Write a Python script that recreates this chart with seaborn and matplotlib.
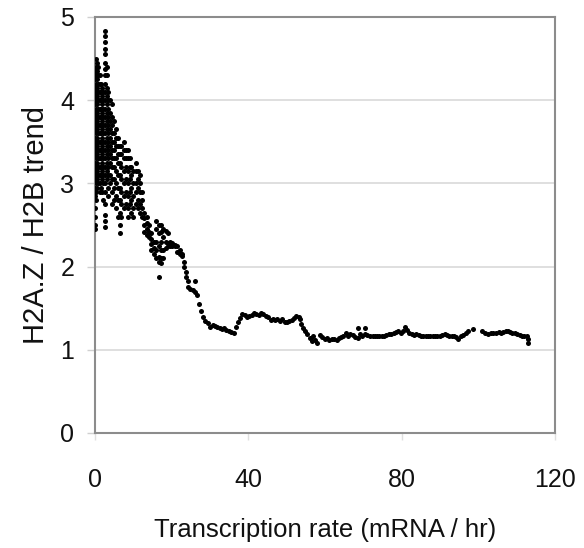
import pandas as pd
import seaborn as sns
import matplotlib.pyplot as plt

# Dense part of the trend (x < 23), read as vertical stacks of points
cluster_cols = [
    (0.0, [4.35, 4.25, 4.15, 4.05, 3.95, 3.85, 3.75, 3.65, 3.55, 3.45, 3.35, 3.25, 3.15, 3.05, 2.95, 2.85, 2.7, 2.6, 2.5, 2.45]),
    (0.3, [4.5, 4.4, 4.3, 4.2, 4.1, 4.0, 3.9, 3.8, 3.7, 3.6, 3.5, 3.4, 3.3, 3.2, 3.1, 3.0, 2.9, 2.8]),
    (0.6, [4.45, 4.35, 4.25, 4.15, 4.05, 3.95, 3.85, 3.75, 3.65, 3.55, 3.45, 3.35, 3.25, 3.15, 3.05, 2.95]),
    (0.9, [4.4, 4.3, 4.2, 4.1, 4.0, 3.9, 3.8, 3.7, 3.6, 3.5, 3.4, 3.3, 3.2, 3.1, 3.0]),
    (1.2, [4.3, 4.2, 4.1, 4.0, 3.9, 3.8, 3.7, 3.6, 3.5, 3.4, 3.3, 3.2, 3.1, 3.0, 2.9]),
    (1.5, [4.2, 4.1, 4.0, 3.9, 3.8, 3.7, 3.6, 3.5, 3.4, 3.3, 3.2, 3.1, 2.95]),
    (1.8, [4.15, 4.05, 3.95, 3.85, 3.75, 3.65, 3.55, 3.45, 3.35, 3.25, 3.15, 3.05, 2.9]),
    (2.1, [4.1, 4.0, 3.9, 3.8, 3.7, 3.6, 3.5, 3.4, 3.3, 3.2, 3.1, 3.0, 2.8]),
    (2.6, [4.83, 4.77, 4.7, 4.62, 4.55, 4.45, 4.38, 4.3, 4.2, 4.1, 4.0, 3.9, 3.8, 3.7, 3.6, 3.5,
           3.4, 3.3, 3.2, 3.1, 3.0, 2.9, 2.75, 2.62, 2.55, 2.47]),
    (3.0, [4.4, 4.3, 4.15, 4.05, 3.95, 3.85, 3.75, 3.65, 3.55, 3.45, 3.35, 3.25, 3.15, 3.05]),
    (3.4, [4.1, 4.0, 3.9, 3.8, 3.7, 3.6, 3.5, 3.4, 3.3, 3.2, 3.1, 2.95, 2.85]),
    (3.9, [4.0, 3.85, 3.75, 3.65, 3.55, 3.45, 3.35, 3.25, 3.1, 3.0]),
    (4.4, [3.95, 3.8, 3.7, 3.6, 3.5, 3.4, 3.3, 3.2, 3.05, 2.9, 2.75]),
    (4.9, [3.75, 3.6, 3.5, 3.4, 3.3, 3.2, 3.05, 2.95, 2.8]),
    (5.4, [3.65, 3.55, 3.45, 3.3, 3.15, 3.0, 2.85, 2.7]),
    (5.9, [3.55, 3.45, 3.35, 3.25, 3.1, 2.95, 2.8, 2.6]),
    (6.4, [3.45, 3.35, 3.25, 3.1, 2.95, 2.8, 2.65, 2.5, 2.4]),
    (6.9, [3.45, 3.35, 3.2, 3.05, 2.9, 2.75, 2.6]),
    (7.5, [3.5, 3.4, 3.3, 3.15, 3.0, 2.85, 2.7]),
    (8.0, [3.4, 3.3, 3.2, 3.05, 2.9, 2.75]),
    (8.5, [3.4, 3.3, 3.15, 3.0, 2.85, 2.7, 2.6]),
    (9.0, [3.3, 3.2, 3.05, 2.9, 2.75]),
    (9.5, [3.2, 3.1, 2.95, 2.8, 2.65]),
    (10.0, [3.15, 3.0, 2.85, 2.7, 2.6]),
    (10.6, [3.25, 3.15, 3.0, 2.9, 2.75]),
    (11.2, [3.15, 3.05, 2.95, 2.8, 2.7]),
    (11.8, [3.1, 3.0, 2.9, 2.75, 2.65]),
    (12.3, [2.9, 2.8, 2.7, 2.6]),
    (12.9, [2.65, 2.58, 2.5, 2.42]),
    (13.5, [2.6, 2.52, 2.45, 2.38]),
    (14.1, [2.5, 2.42, 2.35]),
    (14.7, [2.4, 2.33, 2.27, 2.2]),
    (15.3, [2.3, 2.22, 2.15]),
    (15.9, [2.55, 2.45, 2.3, 2.2, 2.1]),
    (16.6, [2.5, 2.4, 2.25, 2.12, 2.05, 1.87]),
    (17.2, [2.5, 2.42, 2.3, 2.2, 2.1, 2.04]),
    (17.8, [2.45, 2.35, 2.2, 2.1]),
    (18.4, [2.43, 2.3, 2.22]),
    (19.0, [2.4, 2.28, 2.25]),
    (19.6, [2.3, 2.28, 2.25]),
    (20.2, [2.28, 2.25]),
    (20.8, [2.26, 2.25]),
    (21.5, [2.25, 2.18]),
    (22.1, [2.2, 2.15]),
    (22.7, [2.15, 2.13]),
]

# Decline and flat tail (x >= 23)
tail_x = [23.3, 23.3, 23.8, 23.8, 24.3, 24.3, 24.9, 25.6, 26.1, 26.1, 26.6, 27.2, 27.7, 28.2,
          28.8, 29.4, 30.0, 30.7, 31.3, 31.9, 32.5, 33.1, 33.7, 34.3, 35.0, 35.6, 36.2,
          36.8, 37.3, 37.8, 38.4, 39.0, 39.7, 40.3, 40.9, 41.5, 42.1, 42.7, 43.3, 43.9, 44.6,
          45.2, 45.8, 46.4, 47.0, 47.6, 48.2, 48.9, 49.5, 50.1, 50.7, 51.3, 51.9, 52.5, 53.1,
          53.6, 53.8, 54.2, 54.8, 55.4, 56.0, 56.6, 56.9, 57.4, 57.9, 58.7, 59.3, 59.9, 60.5,
          61.1, 61.7, 62.3, 63.0, 63.6, 64.2, 64.8, 65.4, 66.0, 66.6, 67.2, 67.9, 68.5, 68.7,
          69.1, 69.7, 70.4, 70.4, 71.0, 71.7, 72.4, 73.0, 73.6, 74.2, 74.8, 75.4, 76.0, 76.7,
          77.3, 77.9, 78.5, 79.1, 79.7, 80.3, 80.8, 81.4, 82.0, 82.6, 83.2, 83.8, 84.4, 85.0,
          85.6, 86.3, 86.9, 87.5, 88.1, 88.7, 89.3, 89.9, 90.5, 91.2, 91.8, 92.4, 93.0, 93.6,
          94.2, 94.8, 95.5, 96.1, 96.7, 97.4, 98.6, 101.0, 101.8, 102.6, 103.2, 103.9, 104.7,
          105.3, 105.9, 106.5, 107.1, 107.7, 108.3, 108.9, 109.6, 110.2, 110.8, 111.4, 112.0,
          112.6, 113.0, 113.0]
tail_y = [2.05, 2.0, 1.93, 1.88, 1.83, 1.76, 1.73, 1.72, 1.83, 1.7, 1.66, 1.55, 1.47, 1.4,
          1.35, 1.32, 1.28, 1.3, 1.29, 1.27, 1.26, 1.25, 1.26, 1.24, 1.23, 1.21, 1.2,
          1.27, 1.33, 1.38, 1.43, 1.42, 1.4, 1.41, 1.42, 1.44, 1.43, 1.42, 1.44, 1.43, 1.41,
          1.4, 1.36, 1.37, 1.36, 1.37, 1.35, 1.37, 1.34, 1.33, 1.35, 1.36, 1.38, 1.41, 1.4,
          1.37, 1.31, 1.26, 1.22, 1.19, 1.14, 1.1, 1.16, 1.12, 1.08, 1.18, 1.15, 1.13, 1.14,
          1.12, 1.13, 1.13, 1.12, 1.14, 1.15, 1.17, 1.2, 1.16, 1.19, 1.18, 1.15, 1.14, 1.26,
          1.19, 1.16, 1.26, 1.19, 1.18, 1.17, 1.16, 1.17, 1.17, 1.16, 1.17, 1.17, 1.18, 1.19,
          1.19, 1.2, 1.21, 1.23, 1.2, 1.22, 1.28, 1.24, 1.2, 1.19, 1.18, 1.19, 1.18, 1.17,
          1.17, 1.17, 1.16, 1.17, 1.17, 1.16, 1.17, 1.17, 1.18, 1.19, 1.18, 1.17, 1.17, 1.16,
          1.15, 1.13, 1.17, 1.18, 1.2, 1.23, 1.25, 1.23, 1.2, 1.19, 1.2, 1.2, 1.2,
          1.21, 1.2, 1.21, 1.22, 1.23, 1.21, 1.2, 1.2, 1.19, 1.18, 1.17, 1.17,
          1.16, 1.13, 1.08]

xs, ys = [], []
for cx, col in cluster_cols:
    xs += [cx] * len(col)
    ys += col
xs += tail_x
ys += tail_y
df = pd.DataFrame({"rate": xs, "trend": ys})

sns.set_style("white")
plt.rcParams['font.family'] = ['Liberation Sans', 'DejaVu Sans']

fig = plt.figure(figsize=(5.84, 5.48), dpi=100)
ax = fig.add_axes([95 / 584, 1 - 433 / 548, 460 / 584, 416 / 548])

sns.scatterplot(data=df, x="rate", y="trend", ax=ax, color="black", s=13,
                linewidth=0, marker="o", zorder=3)

ax.set_xlim(0, 120)
ax.set_ylim(0, 5)
ax.set_xticks([0, 40, 80, 120])
ax.set_yticks([0, 1, 2, 3, 4, 5])
ax.yaxis.grid(True, color="#d9d9d9", linewidth=1.2)
ax.set_axisbelow(True)
for sp in ax.spines.values():
    sp.set_visible(True)
    sp.set_color("#8c8c8c")
    sp.set_linewidth(1.5)

ax.tick_params(axis="y", direction="out", length=6, color="#d0d0d0", width=1,
               labelsize=18, pad=9, left=True, labelcolor="#111111")
ax.tick_params(axis="x", direction="out", length=5, color="#e0e0e0", width=1,
               labelsize=18, pad=20, bottom=True, labelcolor="#111111")

ax.set_xlabel("Transcription rate (mRNA / hr)", fontsize=18.5, labelpad=19, color="#111111")
ax.set_ylabel("H2A.Z / H2B trend", fontsize=21, labelpad=7, color="#111111")

fig.savefig("out.png", dpi=100)
